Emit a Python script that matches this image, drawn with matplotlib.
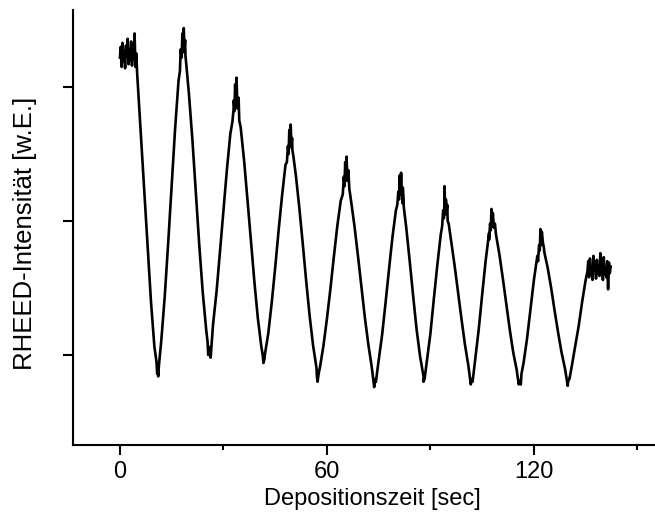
import matplotlib
matplotlib.use("Agg")
import matplotlib.pyplot as plt
import numpy as np

plt.rcParams["font.family"] = ["Liberation Sans", "DejaVu Sans"]

# flat start before the shutter opens (0 .. 4.75 s, 0.25 s steps)
start_t = np.arange(0.0, 5.0, 0.25)
start_v = [3.22, 3.30, 3.15, 3.33, 3.19, 3.27, 3.14, 3.31, 3.23, 3.36,
           3.17, 3.28, 3.20, 3.34, 3.16, 3.29, 3.21, 3.40, 3.15, 3.25]

# oscillations during growth (5 .. 135 s, 1 s steps)
osc_t = np.arange(5.0, 136.0, 1.0)
osc_v = [3.10, 2.68, 2.25, 1.82, 1.40, 1.06, 0.88, 1.11, 1.44, 1.84,
         2.27, 2.69, 3.05, 3.30, 3.23, 2.95, 2.61, 2.22, 1.82, 1.47,
         1.19, 1.06, 1.23, 1.47, 1.77, 2.08, 2.38, 2.65, 2.85, 2.89,
         2.70, 2.45, 2.15, 1.84, 1.54, 1.27, 1.06, 1.00, 1.16, 1.39,
         1.65, 1.93, 2.19, 2.42, 2.58, 2.53, 2.34, 2.10, 1.83, 1.55,
         1.29, 1.07, 0.90, 0.91, 1.07, 1.27, 1.49, 1.73, 1.96, 2.15,
         2.30, 2.30, 2.15, 1.96, 1.74, 1.51, 1.28, 1.08, 0.91, 0.82,
         0.96, 1.15, 1.39, 1.64, 1.88, 2.08, 2.22, 2.13, 1.95, 1.70,
         1.44, 1.19, 0.99, 0.84, 0.96, 1.16, 1.42, 1.67, 1.90, 2.06,
         2.00, 1.85, 1.67, 1.47, 1.27, 1.08, 0.92, 0.82, 0.97, 1.19,
         1.45, 1.70, 1.91, 2.00, 1.90, 1.75, 1.57, 1.38, 1.19, 1.02,
         0.89, 0.81, 0.94, 1.12, 1.34, 1.56, 1.74, 1.86, 1.77, 1.65,
         1.50, 1.33, 1.17, 1.02, 0.90, 0.82, 0.92, 1.07, 1.22, 1.40,
         1.56]

# noise around the maxima
peak_noise_t = [17.4, 17.6, 17.9, 18.1, 18.3, 18.5, 18.7, 18.9, 19.2,
                32.6, 33.0, 33.2, 33.4, 33.6, 33.8, 34.1, 34.4, 34.6,
                48.4, 48.7, 48.9, 49.1, 49.3, 49.5, 49.7, 49.9, 50.3,
                64.6, 64.9, 65.1, 65.3, 65.5, 65.7, 65.9, 66.2, 66.5,
                80.4, 80.7, 80.9, 81.1, 81.3, 81.5, 81.7, 82.0, 82.3,
                93.4, 93.7, 93.9, 94.1, 94.3, 94.5, 94.7, 94.9, 95.3,
                107.0, 107.3, 107.5, 107.7, 107.9, 108.1, 108.4, 108.7,
                121.2, 121.5, 121.7, 121.9, 122.1, 122.3, 122.6, 122.9]
peak_noise_v = [3.12, 3.28, 3.22, 3.40, 3.26, 3.44, 3.29, 3.35, 3.18,
                2.74, 2.90, 2.82, 3.02, 2.86, 3.07, 2.84, 2.92, 2.75,
                2.44, 2.56, 2.50, 2.68, 2.55, 2.72, 2.57, 2.62, 2.48,
                2.20, 2.33, 2.26, 2.44, 2.30, 2.48, 2.32, 2.38, 2.24,
                2.12, 2.22, 2.16, 2.34, 2.20, 2.36, 2.22, 2.25, 2.10,
                1.96, 2.08, 2.02, 2.26, 2.05, 2.16, 2.08, 2.12, 1.98,
                1.86, 1.98, 1.93, 2.09, 1.96, 2.06, 1.95, 1.98,
                1.70, 1.82, 1.78, 1.94, 1.82, 1.92, 1.84, 1.80]

# noise around the minima
dip_noise_t = [10.6, 10.8, 11.1, 11.3, 25.4, 25.6, 26.0, 26.3,
               41.4, 41.6, 41.9, 57.1, 57.3, 57.6, 73.5, 73.7, 74.2,
               88.0, 88.3, 88.5, 101.7, 102.2, 102.5, 115.6, 116.2, 116.4,
               129.6, 129.8, 130.3]
dip_noise_v = [0.95, 0.86, 0.84, 0.92, 1.10, 1.00, 1.04, 0.98,
               1.00, 0.94, 0.97, 0.84, 0.80, 0.86, 0.80, 0.76, 0.80,
               0.80, 0.82, 0.86, 0.78, 0.80, 0.86, 0.78, 0.78, 0.86,
               0.80, 0.77, 0.82]

# flat end after growth stops (135.5 .. 142.25 s, 0.25 s steps)
end_t = np.arange(135.5, 142.5, 0.25)
end_v = [1.62, 1.70, 1.58, 1.72, 1.60, 1.66, 1.56, 1.74, 1.63, 1.69,
         1.57, 1.71, 1.61, 1.67, 1.59, 1.76, 1.62, 1.68, 1.56, 1.73,
         1.60, 1.65, 1.58, 1.70, 1.49, 1.69, 1.61, 1.66]

t = np.concatenate([start_t, osc_t, peak_noise_t, dip_noise_t, end_t])
v = np.concatenate([start_v, osc_v, peak_noise_v, dip_noise_v, end_v])
order = np.argsort(t, kind="stable")
t, v = t[order], v[order]

fig = plt.figure(figsize=(6.55, 5.13), dpi=100)
ax = fig.add_axes([73 / 655, 68 / 513, 582 / 655, 435 / 513])
ax.plot(t, v, color="black", linewidth=1.9)

ax.set_xlim(-13.6, 155.1)
ax.set_ylim(0.328, 3.575)
ax.set_xticks([0, 60, 120])
ax.set_xticks([30, 90, 150], minor=True)
ax.set_yticks([1, 2, 3])
ax.set_yticklabels([])

for side in ("top", "right"):
    ax.spines[side].set_visible(False)
for side in ("left", "bottom"):
    ax.spines[side].set_linewidth(1.5)

ax.tick_params(axis="both", which="major", direction="out", length=7,
               width=1.5, labelsize=17, pad=4.5)
ax.tick_params(axis="x", which="minor", direction="out", length=3.5, width=1.5)

ax.set_xlabel("Depositionszeit [sec]", fontsize=17)
ax.set_ylabel("RHEED-Intensität [w.E.]", fontsize=18.5)
ax.xaxis.set_label_coords(0.514, -0.098)
ax.yaxis.set_label_coords(-0.062, 0.487)

fig.savefig("out.png", dpi=100)
